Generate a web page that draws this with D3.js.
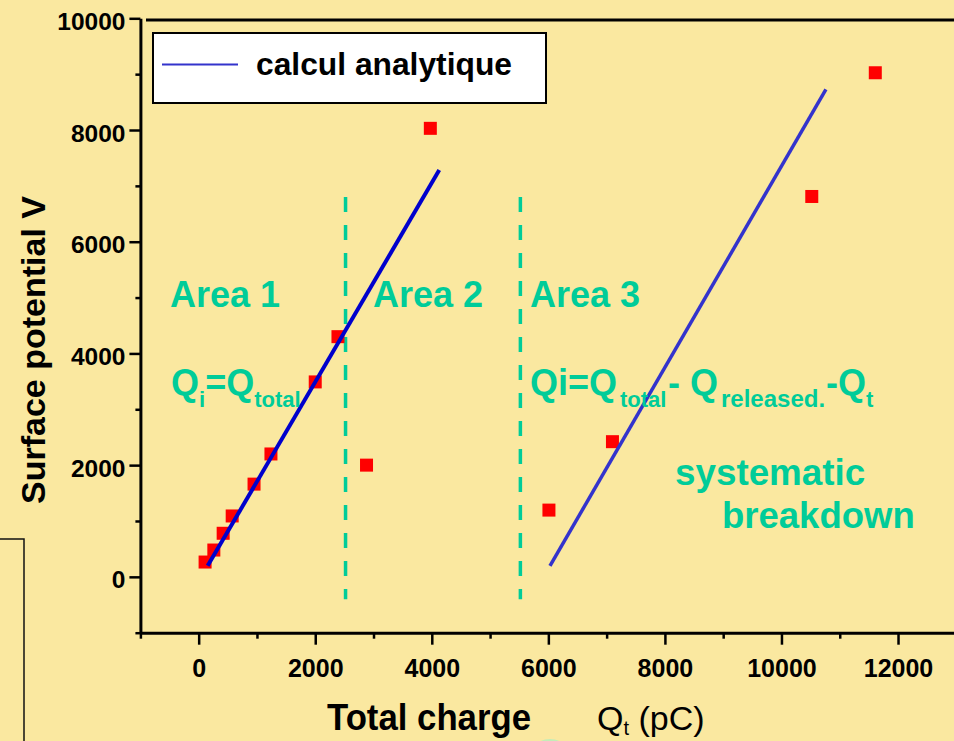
<!DOCTYPE html>
<html>
<head>
<meta charset="utf-8">
<script src="https://cdn.jsdelivr.net/npm/d3@7"></script>
<style>
  html, body { margin: 0; padding: 0; background: #FAE8A0; }
  svg { display: block; }
  text { font-family: Arial, "Liberation Sans", sans-serif; }
</style>
</head>
<body>
<svg id="chart" width="954" height="741"></svg>
<script>
// Measured surface potential against total injected charge
const measuredQ = [110, 260, 420, 575, 950, 1240, 2000, 2390, 2880, 3975, 6010, 7100, 10520, 11610];
const measuredV = [265, 480, 780, 1090, 1660, 2200, 3490, 4300, 2000, 8030, 1195, 2420, 6810, 9025];

// Analytical model: direct charging, and the same law shifted by the released charge
const modelDirectQ = [154, 4128];
const modelDirectV = [197, 7282];
const modelShiftedQ = [6028, 10763];
const modelShiftedV = [197, 8727];

// Boundaries between the three charging regimes
const areaBoundQ = [2520, 5520];
const areaBoundV = [6800, -400];

// Axis ticks
const xMajorTicks = [0, 2000, 4000, 6000, 8000, 10000, 12000];
const xMinorTicks = [-1000, 1000, 3000, 5000, 7000, 9000, 11000];
const yMajorTicks = [0, 2000, 4000, 6000, 8000, 10000];
const yMinorTicks = [-1000, 1000, 3000, 5000, 7000, 9000];

const teal = "#00CC99";
const svg = d3.select("#chart");

const x = d3.scaleLinear().domain([-1000, 13000]).range([140.4, 956.3]);
const y = d3.scaleLinear().domain([-1000, 10000]).range([632.7, 18.3]);

// Side panel frame fragment and faint marks at the slide edge
svg.append("path").attr("d", "M0,539 H24 V741")
  .attr("fill", "none").attr("stroke", "#111").attr("stroke-width", 1.5);
svg.append("ellipse").attr("cx", 550).attr("cy", 753).attr("rx", 18).attr("ry", 14)
  .attr("fill", "#C4EDB8");

// Top frame line
svg.append("line")
  .attr("x1", 146).attr("x2", 954).attr("y1", y(10000) + 1.7).attr("y2", y(10000) + 1.7)
  .attr("stroke", "#000").attr("stroke-width", 3);

// Axes
const xAxis = svg.append("g").attr("transform", `translate(0,${y(-1000)})`)
  .call(d3.axisBottom(x).tickValues(xMajorTicks).tickSize(12).tickSizeOuter(0)
    .tickPadding(15).tickFormat(d3.format("d")));
svg.append("g").attr("transform", `translate(0,${y(-1000)})`)
  .call(d3.axisBottom(x).tickValues(xMinorTicks).tickSize(6).tickSizeOuter(0).tickFormat(""))
  .select(".domain").remove();

const yAxis = svg.append("g").attr("transform", `translate(${x(-1000)},0)`)
  .call(d3.axisLeft(y).tickValues(yMajorTicks).tickSize(11).tickSizeOuter(0)
    .tickPadding(4).tickFormat(d3.format("d")));
svg.append("g").attr("transform", `translate(${x(-1000)},0)`)
  .call(d3.axisLeft(y).tickValues(yMinorTicks).tickSize(5).tickSizeOuter(0).tickFormat(""))
  .select(".domain").remove();

svg.selectAll(".domain").attr("stroke", "#000").attr("stroke-width", 3);
svg.selectAll(".tick line").attr("stroke", "#000").attr("stroke-width", 2.5);
xAxis.selectAll(".tick text")
  .attr("font-family", "Arial, 'Liberation Sans', sans-serif")
  .attr("font-size", 25).attr("font-weight", "bold").attr("fill", "#000");
yAxis.selectAll(".tick text")
  .attr("font-family", "Arial, 'Liberation Sans', sans-serif")
  .attr("font-size", 24.5).attr("font-weight", "bold").attr("fill", "#000")
  .attr("dy", "0.45em");

// Regime boundaries
svg.selectAll(".bound").data(areaBoundQ).join("line")
  .attr("class", "bound")
  .attr("x1", d => x(d)).attr("x2", d => x(d))
  .attr("y1", y(areaBoundV[0])).attr("y2", y(areaBoundV[1]))
  .attr("stroke", teal).attr("stroke-width", 3.5).attr("stroke-dasharray", "15,13");

// Measured points
const points = measuredQ.map((q, i) => ({ q, v: measuredV[i] }));
const sq = 13;
svg.selectAll(".pt").data(points).join("rect")
  .attr("class", "pt")
  .attr("x", d => x(d.q) - sq / 2).attr("y", d => y(d.v) - sq / 2)
  .attr("width", sq).attr("height", sq)
  .attr("fill", "#FF0000");

// Analytical lines
const line = d3.line().x(d => x(d[0])).y(d => y(d[1]));
svg.append("path")
  .attr("d", line(d3.zip(modelDirectQ, modelDirectV)))
  .attr("fill", "none").attr("stroke", "#0000CC").attr("stroke-width", 4);
svg.append("path")
  .attr("d", line(d3.zip(modelShiftedQ, modelShiftedV)))
  .attr("fill", "none").attr("stroke", "#3333CC").attr("stroke-width", 3.5);

// Legend
svg.append("rect").attr("x", 153).attr("y", 33).attr("width", 393).attr("height", 70)
  .attr("fill", "#fff").attr("stroke", "#000").attr("stroke-width", 2);
svg.append("line").attr("x1", 162).attr("x2", 238).attr("y1", 64.5).attr("y2", 64.5)
  .attr("stroke", "#3333CC").attr("stroke-width", 2);
svg.append("text").attr("x", 256).attr("y", 75)
  .attr("font-size", 31.5).attr("font-weight", "bold").attr("fill", "#000")
  .attr("textLength", 256).attr("lengthAdjust", "spacingAndGlyphs")
  .text("calcul analytique");

// Area annotations
const big = 36, small = 22, sub = 12;
function annot(xp, yp, txt, size) {
  return svg.append("text").attr("x", xp).attr("y", yp)
    .attr("font-size", size || big).attr("font-weight", "bold").attr("fill", teal).text(txt);
}
annot(170, 307, "Area 1");
annot(373, 307, "Area 2");
annot(530, 307, "Area 3");
annot(675, 485, "systematic", 36.8);
annot(722, 528, "breakdown", 36.5);

const f1 = svg.append("text").attr("x", 171).attr("y", 395)
  .attr("font-size", big).attr("font-weight", "bold").attr("fill", teal);
f1.append("tspan").text("Q");
f1.append("tspan").attr("font-size", small).attr("dy", sub).text("i");
f1.append("tspan").attr("dy", -sub).text("=Q");
f1.append("tspan").attr("font-size", small).attr("dy", sub).text("total");

const f3 = svg.append("text").attr("y", 395)
  .attr("font-size", big).attr("font-weight", "bold").attr("fill", teal);
f3.append("tspan").attr("x", 530).text("Qi=Q");
f3.append("tspan").attr("x", 620).attr("y", 395 + sub).attr("font-size", small).text("total");
f3.append("tspan").attr("x", 668).attr("y", 395).text("- Q");
f3.append("tspan").attr("x", 721).attr("y", 395 + sub).attr("font-size", 24).text("released.");
f3.append("tspan").attr("x", 826).attr("y", 395).text("-Q");
f3.append("tspan").attr("x", 866).attr("y", 395 + sub).attr("font-size", small).text("t");

// Axis titles
svg.append("text")
  .attr("transform", "translate(45,350) rotate(-90)")
  .attr("text-anchor", "middle")
  .attr("font-size", 34).attr("font-weight", "bold").attr("fill", "#000")
  .text("Surface potential V");

svg.append("text").attr("x", 327).attr("y", 730)
  .attr("font-size", 37).attr("font-weight", "bold").attr("fill", "#000")
  .attr("textLength", 204).attr("lengthAdjust", "spacingAndGlyphs")
  .text("Total charge");

const qt = svg.append("text").attr("x", 597).attr("y", 730)
  .attr("font-size", 34).attr("fill", "#000");
qt.append("tspan").text("Q");
qt.append("tspan").attr("font-size", 20).attr("dy", 5).text("t");
qt.append("tspan").attr("dy", -5).text(" (pC)");
</script>
</body>
</html>
